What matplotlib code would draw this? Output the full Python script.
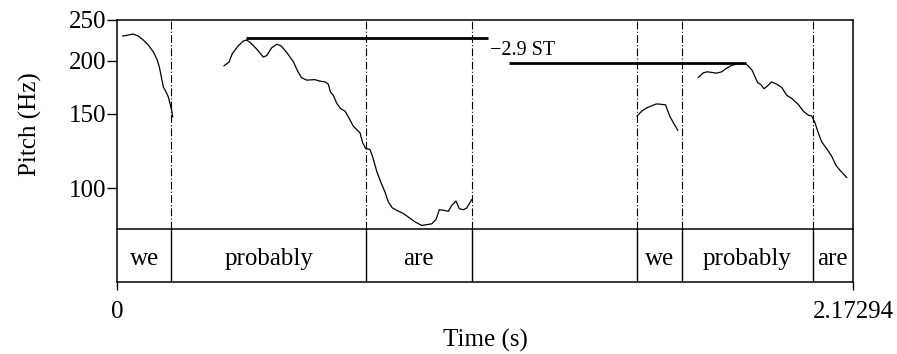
import matplotlib
matplotlib.use('Agg')
import matplotlib.pyplot as plt

plt.rc('font', family='Liberation Serif')
plt.rc('font', size=18)

# total duration of the sound (s)
t_end = 2.17294

# word tier: interval boundaries (s) and labels
bounds = [0.0, 0.1603, 0.7351, 1.0472, 1.5352, 1.6690, 2.0540, t_end]
words = ['we', 'probably', 'are', '', 'we', 'probably', 'are']

# pitch contour, one list per voiced stretch (time in s, f0 in Hz)
t1 = [0.0168, 0.0334, 0.0481, 0.0629, 0.0776, 0.0924, 0.1072, 0.1190, 0.1249, 0.1299,
      0.1367, 0.1447, 0.1515, 0.1565, 0.1615, 0.1644]
f1 = [229.1, 230.4, 231.6, 229.1, 224.2, 218.1, 210.3, 201.0, 193.8, 185.2,
      173.7, 169.1, 164.5, 158.7, 153.0, 147.5]

t2 = [0.3159, 0.3307, 0.3404, 0.3581, 0.3729, 0.3823, 0.3927, 0.4125, 0.4319, 0.4420,
      0.4567, 0.4715, 0.4842, 0.5010, 0.5205, 0.5344, 0.5447, 0.5601, 0.5846, 0.5993,
      0.6141, 0.6238, 0.6303, 0.6386, 0.6486, 0.6599, 0.6731, 0.6858, 0.6977, 0.7077,
      0.7174, 0.7254, 0.7337, 0.7470, 0.7549, 0.7668, 0.7786, 0.7912, 0.8010, 0.8128,
      0.8258, 0.8453, 0.8630, 0.8798, 0.8996, 0.9291, 0.9418, 0.9516, 0.9654, 0.9781,
      0.9882, 1.0009, 1.0106, 1.0224, 1.0325, 1.0472]
f2 = [194.8, 198.8, 208.2, 217.3, 222.9, 224.2, 221.4, 213.4, 204.3, 206.0,
      214.9, 219.0, 217.3, 209.6, 199.3, 188.6, 182.7, 180.2, 180.7, 179.2,
      178.5, 176.3, 168.8, 166.0, 158.9, 154.4, 152.2, 146.2, 140.2, 137.7,
      135.3, 128.1, 124.3, 123.5, 118.6, 109.7, 103.5, 98.0, 92.9, 89.9,
      88.7, 87.2, 85.2, 83.3, 81.7, 82.4, 84.4, 89.0, 88.7, 88.2,
      91.1, 93.3, 89.5, 89.0, 89.8, 94.0]

t3 = [1.5352, 1.5491, 1.5648, 1.5922, 1.6032, 1.6194, 1.6327, 1.6445, 1.6554]
f3 = [148.1, 152.2, 155.1, 158.3, 158.1, 157.5, 147.7, 142.1, 137.2]

t4 = [1.7162, 1.7310, 1.7428, 1.7558, 1.7706, 1.7853, 1.8001, 1.8148, 1.8296, 1.8444,
      1.8556, 1.8639, 1.8748, 1.8836, 1.8916, 1.9005, 1.9102, 1.9199, 1.9324, 1.9477,
      1.9625, 1.9772, 1.9920, 2.0115, 2.0262, 2.0410, 2.0510, 2.0608, 2.0705, 2.0806,
      2.0953, 2.1101, 2.1228, 2.1346, 2.1544]
f4 = [182.9, 187.5, 188.6, 187.9, 187.2, 188.6, 192.4, 195.3, 196.6, 196.9,
      197.2, 194.5, 190.3, 183.5, 177.8, 176.0, 172.0, 174.4, 178.4, 176.3,
      173.2, 166.0, 163.1, 157.8, 152.2, 148.9, 148.3, 142.8, 135.2, 128.7,
      124.1, 119.0, 113.3, 110.3, 106.0]

segments = [(t1, f1), (t2, f2), (t3, f3), (t4, f4)]

# peak reference lines: (start, end, Hz)
peak_lines = [(0.3809, 1.0945, 227.0), (1.1582, 1.8562, 198.0)]
peak_text = '\u22122.9 ST'
peak_text_pos = (1.1004, 212.0)

y_ticks = [100, 150, 200, 250]

W, H = 897, 354
fig = plt.figure(figsize=(W / 100, H / 100), dpi=100)

# pitch panel
ax = fig.add_axes([117 / W, 1 - 229.3 / H, 736 / W, 209.3 / H])
ax.set_yscale('log')
ax.set_xlim(0, t_end)
ax.set_ylim(80, 250)

for t, f in segments:
	ax.plot(t, f, color='black', lw=0.9)

for b in bounds[1:-1]:
	ax.axvline(b, color='black', lw=0.8, linestyle=(0, (7, 2, 1, 2)))

for a, b, hz in peak_lines:
	ax.plot([a, b], [hz, hz], color='black', lw=2.0, solid_capstyle='butt')
ax.text(peak_text_pos[0], peak_text_pos[1], peak_text, fontsize=14.5, ha='left', va='center')

ax.set_yticks(y_ticks)
ax.set_yticklabels([str(v) for v in y_ticks])
ax.yaxis.set_minor_locator(matplotlib.ticker.NullLocator())
ax.tick_params(axis='y', direction='out', length=7, width=1, pad=1)
ax.set_xticks([])
for s in ax.spines.values():
	s.set_linewidth(1.1)
ax.spines['bottom'].set_visible(False)

# word tier
tier = fig.add_axes([117 / W, 1 - 281.7 / H, 736 / W, 52.4 / H])
tier.set_xlim(0, t_end)
tier.set_ylim(0, 1)
for b in bounds[1:-1]:
	tier.axvline(b, color='black', lw=1.0)
for i, w in enumerate(words):
	tier.text((bounds[i] + bounds[i + 1]) / 2, 0.44, w, ha='center', va='center', fontsize=18)
tier.set_yticks([])
tier.set_xticks([0, t_end])
tier.set_xticklabels(['0', '2.17294'])
tier.tick_params(axis='x', direction='out', length=6, width=1, pad=8)
for s in tier.spines.values():
	s.set_linewidth(1.1)

fig.text(30 / W, 1 - 124 / H, 'Pitch (Hz)', rotation=90, ha='center', va='center', fontsize=18)
fig.text(485 / W, 1 - 340 / H, 'Time (s)', ha='center', va='center', fontsize=18)

fig.savefig('out.png', dpi=100)
